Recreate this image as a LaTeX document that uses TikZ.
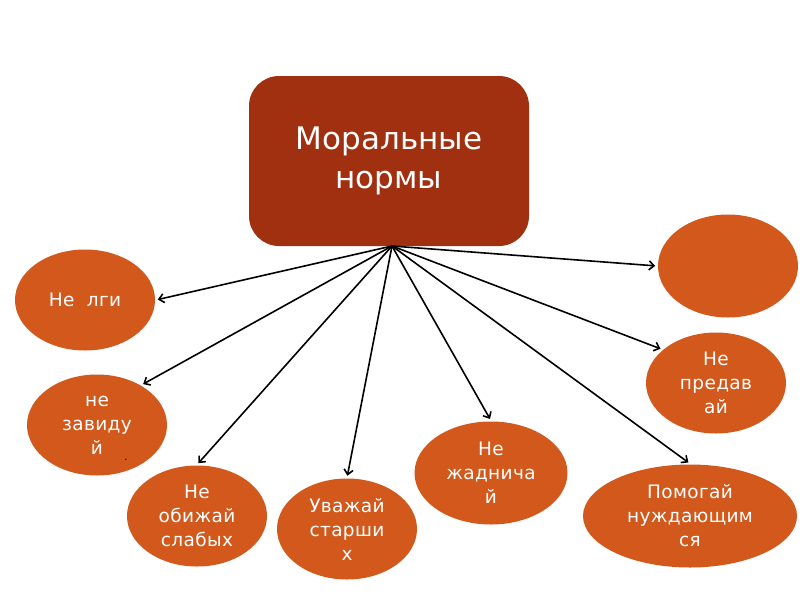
\documentclass[tikz,border=0pt]{standalone}
\usepackage{fontspec}
\setmainfont{DejaVu Sans}
\newfontfamily\widefont[LetterSpace=2]{DejaVu Sans}
\usepackage{tikz}
\usetikzlibrary{positioning,arrows.meta,shapes.geometric}

\definecolor{normred}{RGB}{160,48,16}
\definecolor{ruleorange}{RGB}{210,88,28}

\begin{document}
\begin{tikzpicture}[x=1pt, y=-1pt,
  head/.style={draw=none, fill=normred, rounded corners=30pt, inner sep=0pt,
    minimum width=280pt, minimum height=170pt, text=white, align=center,
    font=\fontsize{31}{39}\selectfont},
  rule/.style={ellipse, draw=none, fill=ruleorange, inner sep=0pt,
    minimum width=140pt, minimum height=101pt, text=white, align=center,
    font=\widefont\fontsize{18.5}{24}\selectfont},
  >={Straight Barb[length=5pt, width=9pt]}, line width=1.6pt]
  \useasboundingbox (0,0) rectangle (800,600);

  \node[head] (norms) at (389,161) {Моральные\\нормы};
  \coordinate (hub) at (392,246);

  \node[rule] (lgi) at (85,300) {Не\ \ лги};
  \node[rule] (zavid) at (97,425) {не\\завиду\\й};
  \node at (126,460) {\fontsize{10}{12}\selectfont .};
  \node[rule] (obizh) at (197,516) {Не\\обижай\\слабых};
  \node[rule] (uvazh) at (347,529) {Уважай\\старши\\х};
  \node[rule, minimum width=153pt, minimum height=103pt] (zhad) at (491,473) {Не\\жаднича\\й};
  \node[rule, minimum width=214pt, minimum height=103pt] (pomog) at (690,516) {Помогай\\нуждающим\\ся};
  \node[rule] (predav) at (716,383) {Не\\предав\\ай};
  \node[rule, minimum height=103pt] (empty) at (728,266) {};

  \path[->, shorten >=2pt]
  (hub) edge (lgi.east)
        edge (zavid.42)
        edge (obizh.north)
        edge (uvazh.north)
        edge (zhad.north)
        edge (pomog.north)
        edge (predav.148)
        edge (empty.west);
\end{tikzpicture}
\end{document}
